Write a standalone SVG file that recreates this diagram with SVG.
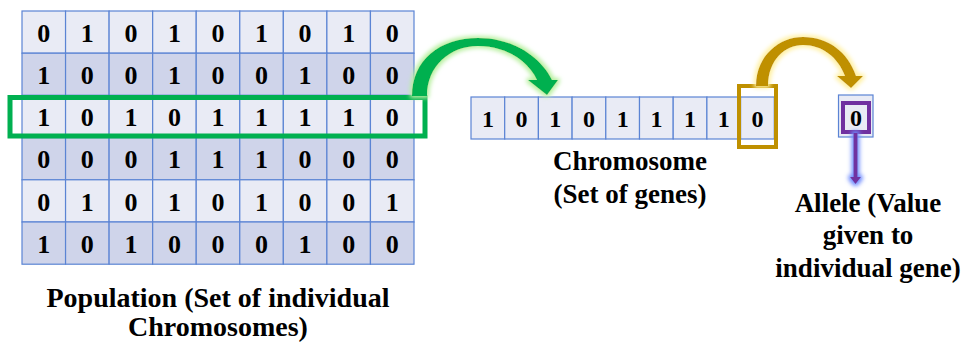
<svg xmlns="http://www.w3.org/2000/svg" width="976" height="347" viewBox="0 0 976 347">
  <defs>
    <style>
      .lt { fill: #e9ebf5; stroke: #5b84d4; stroke-width: 1.2; }
      .dk { fill: #cfd4ea; stroke: #5b84d4; stroke-width: 1.2; }
      .txt { font-family: 'Liberation Serif', serif; font-weight: 700; text-anchor: middle; fill: #000; }
    </style>
    <filter id="glowGreen" x="-20%" y="-30%" width="140%" height="160%">
      <feMorphology in="SourceAlpha" operator="dilate" radius="2" result="d"/>
      <feGaussianBlur in="d" stdDeviation="2" result="b"/>
      <feFlood flood-color="#b8f0a0"/>
      <feComposite in2="b" operator="in" result="g"/>
      <feMerge><feMergeNode in="g"/><feMergeNode in="SourceGraphic"/></feMerge>
    </filter>
    <filter id="glowGold" x="-20%" y="-30%" width="140%" height="160%">
      <feMorphology in="SourceAlpha" operator="dilate" radius="2" result="d"/>
      <feGaussianBlur in="d" stdDeviation="2" result="b"/>
      <feFlood flood-color="#fff0a0"/>
      <feComposite in2="b" operator="in" result="g"/>
      <feMerge><feMergeNode in="g"/><feMergeNode in="SourceGraphic"/></feMerge>
    </filter>
    <filter id="glowBlue" x="-200%" y="-20%" width="500%" height="140%">
      <feMorphology in="SourceAlpha" operator="dilate" radius="1.5" result="d"/>
      <feGaussianBlur in="d" stdDeviation="2" result="b"/>
      <feFlood flood-color="#6f8cff"/>
      <feComposite in2="b" operator="in" result="g"/>
      <feMerge><feMergeNode in="g"/><feMergeNode in="SourceGraphic"/></feMerge>
    </filter>
  </defs>

  <rect width="976" height="347" fill="#fff"/>

  <!-- Population grid: 6 chromosomes x 9 genes -->
  <g id="population">
    <g id="row0">
      <rect class="lt" x="22" y="11" width="43.56" height="42.2"/>
      <rect class="lt" x="65.56" y="11" width="43.56" height="42.2"/>
      <rect class="lt" x="109.11" y="11" width="43.56" height="42.2"/>
      <rect class="lt" x="152.67" y="11" width="43.56" height="42.2"/>
      <rect class="lt" x="196.22" y="11" width="43.56" height="42.2"/>
      <rect class="lt" x="239.78" y="11" width="43.56" height="42.2"/>
      <rect class="lt" x="283.33" y="11" width="43.56" height="42.2"/>
      <rect class="lt" x="326.89" y="11" width="43.56" height="42.2"/>
      <rect class="lt" x="370.44" y="11" width="43.56" height="42.2"/>
    </g>
    <g id="row1">
      <rect class="dk" x="22" y="53.2" width="43.56" height="42.2"/>
      <rect class="dk" x="65.56" y="53.2" width="43.56" height="42.2"/>
      <rect class="dk" x="109.11" y="53.2" width="43.56" height="42.2"/>
      <rect class="dk" x="152.67" y="53.2" width="43.56" height="42.2"/>
      <rect class="dk" x="196.22" y="53.2" width="43.56" height="42.2"/>
      <rect class="dk" x="239.78" y="53.2" width="43.56" height="42.2"/>
      <rect class="dk" x="283.33" y="53.2" width="43.56" height="42.2"/>
      <rect class="dk" x="326.89" y="53.2" width="43.56" height="42.2"/>
      <rect class="dk" x="370.44" y="53.2" width="43.56" height="42.2"/>
    </g>
    <g id="row2">
      <rect class="lt" x="22" y="95.4" width="43.56" height="42.2"/>
      <rect class="lt" x="65.56" y="95.4" width="43.56" height="42.2"/>
      <rect class="lt" x="109.11" y="95.4" width="43.56" height="42.2"/>
      <rect class="lt" x="152.67" y="95.4" width="43.56" height="42.2"/>
      <rect class="lt" x="196.22" y="95.4" width="43.56" height="42.2"/>
      <rect class="lt" x="239.78" y="95.4" width="43.56" height="42.2"/>
      <rect class="lt" x="283.33" y="95.4" width="43.56" height="42.2"/>
      <rect class="lt" x="326.89" y="95.4" width="43.56" height="42.2"/>
      <rect class="lt" x="370.44" y="95.4" width="43.56" height="42.2"/>
    </g>
    <g id="row3">
      <rect class="dk" x="22" y="137.6" width="43.56" height="42.2"/>
      <rect class="dk" x="65.56" y="137.6" width="43.56" height="42.2"/>
      <rect class="dk" x="109.11" y="137.6" width="43.56" height="42.2"/>
      <rect class="dk" x="152.67" y="137.6" width="43.56" height="42.2"/>
      <rect class="dk" x="196.22" y="137.6" width="43.56" height="42.2"/>
      <rect class="dk" x="239.78" y="137.6" width="43.56" height="42.2"/>
      <rect class="dk" x="283.33" y="137.6" width="43.56" height="42.2"/>
      <rect class="dk" x="326.89" y="137.6" width="43.56" height="42.2"/>
      <rect class="dk" x="370.44" y="137.6" width="43.56" height="42.2"/>
    </g>
    <g id="row4">
      <rect class="lt" x="22" y="179.8" width="43.56" height="42.2"/>
      <rect class="lt" x="65.56" y="179.8" width="43.56" height="42.2"/>
      <rect class="lt" x="109.11" y="179.8" width="43.56" height="42.2"/>
      <rect class="lt" x="152.67" y="179.8" width="43.56" height="42.2"/>
      <rect class="lt" x="196.22" y="179.8" width="43.56" height="42.2"/>
      <rect class="lt" x="239.78" y="179.8" width="43.56" height="42.2"/>
      <rect class="lt" x="283.33" y="179.8" width="43.56" height="42.2"/>
      <rect class="lt" x="326.89" y="179.8" width="43.56" height="42.2"/>
      <rect class="lt" x="370.44" y="179.8" width="43.56" height="42.2"/>
    </g>
    <g id="row5">
      <rect class="dk" x="22" y="222" width="43.56" height="42.2"/>
      <rect class="dk" x="65.56" y="222" width="43.56" height="42.2"/>
      <rect class="dk" x="109.11" y="222" width="43.56" height="42.2"/>
      <rect class="dk" x="152.67" y="222" width="43.56" height="42.2"/>
      <rect class="dk" x="196.22" y="222" width="43.56" height="42.2"/>
      <rect class="dk" x="239.78" y="222" width="43.56" height="42.2"/>
      <rect class="dk" x="283.33" y="222" width="43.56" height="42.2"/>
      <rect class="dk" x="326.89" y="222" width="43.56" height="42.2"/>
      <rect class="dk" x="370.44" y="222" width="43.56" height="42.2"/>
    </g>
    <g id="bits" class="txt" font-size="26">
      <text y="41.8"><tspan x="43.8">0</tspan><tspan x="87.3">1</tspan><tspan x="130.9">0</tspan><tspan x="174.4">1</tspan><tspan x="218">0</tspan><tspan x="261.6">1</tspan><tspan x="305.1">0</tspan><tspan x="348.7">1</tspan><tspan x="392.2">0</tspan></text>
      <text y="84"><tspan x="43.8">1</tspan><tspan x="87.3">0</tspan><tspan x="130.9">0</tspan><tspan x="174.4">1</tspan><tspan x="218">0</tspan><tspan x="261.6">0</tspan><tspan x="305.1">1</tspan><tspan x="348.7">0</tspan><tspan x="392.2">0</tspan></text>
      <text y="126.2"><tspan x="43.8">1</tspan><tspan x="87.3">0</tspan><tspan x="130.9">1</tspan><tspan x="174.4">0</tspan><tspan x="218">1</tspan><tspan x="261.6">1</tspan><tspan x="305.1">1</tspan><tspan x="348.7">1</tspan><tspan x="392.2">0</tspan></text>
      <text y="168.4"><tspan x="43.8">0</tspan><tspan x="87.3">0</tspan><tspan x="130.9">0</tspan><tspan x="174.4">1</tspan><tspan x="218">1</tspan><tspan x="261.6">1</tspan><tspan x="305.1">0</tspan><tspan x="348.7">0</tspan><tspan x="392.2">0</tspan></text>
      <text y="210.6"><tspan x="43.8">0</tspan><tspan x="87.3">1</tspan><tspan x="130.9">0</tspan><tspan x="174.4">1</tspan><tspan x="218">0</tspan><tspan x="261.6">1</tspan><tspan x="305.1">0</tspan><tspan x="348.7">0</tspan><tspan x="392.2">1</tspan></text>
      <text y="252.8"><tspan x="43.8">1</tspan><tspan x="87.3">0</tspan><tspan x="130.9">1</tspan><tspan x="174.4">0</tspan><tspan x="218">0</tspan><tspan x="261.6">0</tspan><tspan x="305.1">1</tspan><tspan x="348.7">0</tspan><tspan x="392.2">0</tspan></text>
    </g>
    <!-- highlighted chromosome -->
    <rect id="selected-row" x="10" y="97.5" width="415" height="38.5" fill="none" stroke="#00b050" stroke-width="5"/>
  </g>

  <!-- Single chromosome -->
  <g id="chromosome">
    <rect class="lt" x="471" y="97" width="33.7" height="42"/>
    <rect class="lt" x="504.7" y="97" width="33.7" height="42"/>
    <rect class="lt" x="538.4" y="97" width="33.7" height="42"/>
    <rect class="lt" x="572.1" y="97" width="33.7" height="42"/>
    <rect class="lt" x="605.8" y="97" width="33.7" height="42"/>
    <rect class="lt" x="639.5" y="97" width="33.7" height="42"/>
    <rect class="lt" x="673.2" y="97" width="33.7" height="42"/>
    <rect class="lt" x="706.9" y="97" width="33.7" height="42"/>
    <rect class="lt" x="740.6" y="97" width="33.7" height="42"/>
    <text class="txt" font-size="24" y="127"><tspan x="487.9">1</tspan><tspan x="521.6">0</tspan><tspan x="555.3">1</tspan><tspan x="589">0</tspan><tspan x="622.7">1</tspan><tspan x="656.4">1</tspan><tspan x="690.1">1</tspan><tspan x="723.8">1</tspan><tspan x="757.5">0</tspan></text>
    <!-- highlighted gene -->
    <rect id="selected-gene" x="739" y="86" width="37" height="61" fill="none" stroke="#bf9000" stroke-width="4"/>
  </g>

  <!-- Single gene value -->
  <g id="allele">
    <rect class="lt" x="838.5" y="95" width="34.5" height="42"/>
    <rect x="843" y="103" width="26" height="29" fill="none" stroke="#7030a0" stroke-width="4"/>
    <text class="txt" font-size="24" x="856" y="126">0</text>
  </g>

  <!-- Captions -->
  <g id="labels" class="txt" font-size="27">
    <text x="218" y="307" font-size="28">Population (Set of individual</text>
    <text x="218" y="336" font-size="28">Chromosomes)</text>
    <text x="630" y="170">Chromosome</text>
    <text x="630" y="203">(Set of genes)</text>
    <text x="868" y="212">Allele (Value</text>
    <text x="868" y="244">given to</text>
    <text x="868" y="277">individual gene)</text>
  </g>

  <!-- Connectors -->
  <g id="connectors">
    <path id="arrow-population-chromosome" filter="url(#glowGreen)" fill="#00b050"
          d="M 412 96 C 412 60, 440 38, 478 38 C 512 38, 540 56, 552 80 L 558 80 L 547 95 L 528 80 L 537 80 C 528 60, 505 46, 478 46 C 450 46, 427 66, 427 96 Z"/>
    <path id="arrow-chromosome-allele" filter="url(#glowGold)" fill="#bf9000"
          d="M 756 86 C 756 55, 780 37, 803 37 C 828 37, 848 52, 856 76 L 863 76 L 851 88 L 837 76 L 845 76 C 838 57, 822 45, 803 45 C 785 45, 768 60, 768 86 Z"/>
    <g id="arrow-allele-label" filter="url(#glowBlue)">
      <line x1="855.5" y1="133" x2="855.5" y2="178" stroke="#7030a0" stroke-width="4"/>
      <polygon points="850,177 861,177 855.5,184" fill="#7030a0"/>
    </g>
  </g>
</svg>
